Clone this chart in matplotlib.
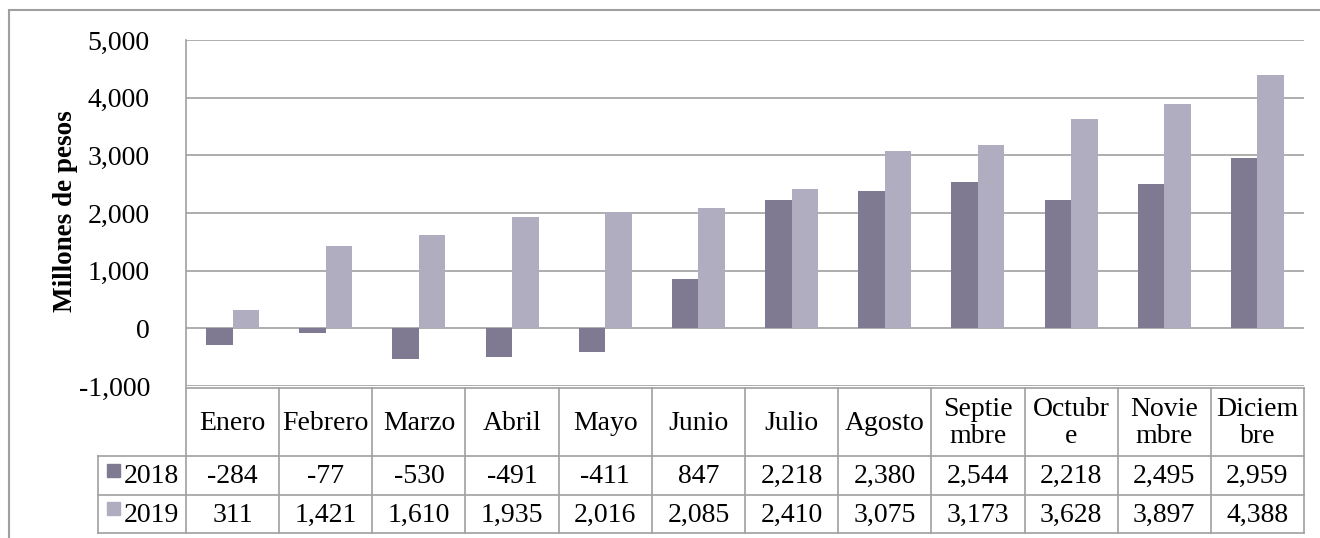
import matplotlib
matplotlib.use('Agg')
import matplotlib.pyplot as plt
import numpy as np
from matplotlib.patches import Rectangle
from matplotlib.lines import Line2D
from matplotlib.transforms import blended_transform_factory

plt.rcParams['font.family'] = ['Liberation Serif', 'DejaVu Serif']

# Data
meses = ['Enero', 'Febrero', 'Marzo', 'Abril', 'Mayo', 'Junio', 'Julio', 'Agosto',
         'Septie\nmbre', 'Octubr\ne', 'Novie\nmbre', 'Diciem\nbre']
series = ['2018', '2019']
v2018 = [-284, -77, -530, -491, -411, 847, 2218, 2380, 2544, 2218, 2495, 2959]
v2019 = [311, 1421, 1610, 1935, 2016, 2085, 2410, 3075, 3173, 3628, 3897, 4388]
colores = ['#7f7a92', '#b0adc0']

W, H = 1320, 538
fig = plt.figure(figsize=(W / 100, H / 100), dpi=100)

def fx(p):
    return p / W

def fy(p):
    return 1 - p / H

# plot area in pixels
left, right, top, bottom = 186, 1304, 40, 386
ax = fig.add_axes([fx(left), fy(bottom), fx(right - left), (bottom - top) / H])

x = np.arange(len(meses))
bw = 0.284
ax.bar(x - bw / 2, v2018, bw, color=colores[0], zorder=3)
ax.bar(x + bw / 2, v2019, bw, color=colores[1], zorder=3)

fs = 20
ax.set_xlim(-0.5, len(meses) - 0.5)
ax.set_ylim(-1000, 5000)
ax.set_yticks(np.arange(-1000, 5001, 1000))
ax.set_yticklabels([f'{t:,}' for t in range(-1000, 5001, 1000)])
ax.set_xticks([])
ax.tick_params(axis='y', length=0, pad=26, labelsize=fs)
ax.grid(axis='y', color='#a0a0a0', lw=1.2, zorder=0)
for s in ['top', 'right', 'bottom']:
    ax.spines[s].set_visible(False)
ax.spines['left'].set_color('#a0a0a0')
ax.spines['left'].set_linewidth(1.2)

# y label placed by hand, like the reference
fig.text(fx(66), fy((top + bottom) / 2 - 2), 'Millones de pesos', rotation=90,
         ha='center', va='center', fontsize=19.5, fontweight='bold')

# outer frame
fig.patches.append(Rectangle((fx(9), fy(600)), 2, fy(10) - fy(600), transform=fig.transFigure,
                             fill=False, edgecolor='#a0a0a0', lw=1.5))

# data table below the axis
tr = blended_transform_factory(ax.transData, fig.transFigure)
y_head, y_r1, y_r2, y_end = 388, 456, 495, 533
gcol = '#a0a0a0'
n = len(meses)
for k in range(n + 1):
    fig.add_artist(Line2D([k - 0.5, k - 0.5], [fy(y_head), fy(y_end)], transform=tr, color=gcol, lw=1.2))
fig.add_artist(Line2D([-0.5, n - 0.5], [fy(y_head), fy(y_head)], transform=tr, color=gcol, lw=1.2))
for yy in [y_r1, y_r2, y_end]:
    fig.add_artist(Line2D([fx(98), fx(right)], [fy(yy), fy(yy)], transform=fig.transFigure, color=gcol, lw=1.2))
fig.add_artist(Line2D([fx(98), fx(98)], [fy(y_r1), fy(y_end)], transform=fig.transFigure, color=gcol, lw=1.2))

for i, m in enumerate(meses):
    fig.text(0, fy((y_head + y_r1) / 2 + 1), m, transform=tr, ha='center', va='center',
             fontsize=fs, linespacing=1.1).set_x(i)
for vals, y0, y1 in [(v2018, y_r1, y_r2), (v2019, y_r2, y_end)]:
    for i, v in enumerate(vals):
        fig.text(0, fy((y0 + y1) / 2 + 1), f'{v:,}', transform=tr, ha='center', va='center',
                 fontsize=fs).set_x(i)

for s, c, y0, y1 in [(series[0], colores[0], y_r1, y_r2), (series[1], colores[1], y_r2, y_end)]:
    yc = (y0 + y1) / 2
    fig.patches.append(Rectangle((fx(107), fy(yc + 1)), 13 / W, 13 / H, transform=fig.transFigure,
                                 color=c))
    fig.text(fx(124), fy(yc + 1), s, ha='left', va='center', fontsize=fs)

fig.savefig('out.png', dpi=100)
